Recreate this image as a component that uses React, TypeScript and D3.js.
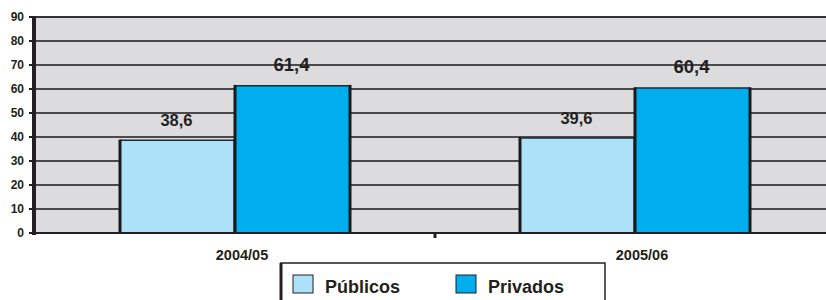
import * as d3 from "d3";

const categories = ["2004/05", "2005/06"];
const seriesNames = ["Públicos", "Privados"];
const publicos = [38.6, 39.6];
const privados = [61.4, 60.4];
const yTicks = [0, 10, 20, 30, 40, 50, 60, 70, 80, 90];

const colors = ["#ade0f9", "#00adef"];
const width = 826;
const height = 300;
const marginLeft = 35;
const plotTop = 17;
const plotBottom = 233;

const fmt = (v: number) => v.toFixed(1).replace(".", ",");

export default function App() {
  const y = d3.scaleLinear().domain([0, 90]).range([plotBottom, plotTop]);
  const x = d3.scaleBand().domain(categories).range([marginLeft, marginLeft + 800]).padding(0);
  const xs = d3
    .scaleBand()
    .domain(seriesNames)
    .range([0, x.bandwidth()])
    .paddingInner(0)
    .paddingOuter(0.739);

  const rows = categories.map((c, i) => ({ cat: c, values: [publicos[i], privados[i]] }));
  const font = "'Liberation Sans', Arial, sans-serif";

  return (
    <div style={{ position: "fixed", left: 0, top: 0 }}>
      <svg width={width} height={height} style={{ display: "block", background: "#fff" }} fontFamily={font}>
        {/* plot background */}
        <rect x={marginLeft} y={plotTop} width={width - marginLeft} height={plotBottom - plotTop} fill="#dcdcde" />
        {/* gridlines */}
        {yTicks.filter((t) => t > 0).map((t) => (
          <line key={t} x1={marginLeft} x2={width} y1={y(t)} y2={y(t)} stroke={t === 90 ? "#333" : "#4a4a4a"} strokeWidth={2} />
        ))}
        {/* bars */}
        {rows.map((r) => (
          <g key={r.cat} transform={`translate(${x(r.cat)},0)`}>
            {r.values.map((v, j) => {
              const bx = xs(seriesNames[j])!;
              const bw = xs.bandwidth();
              const top = y(v);
              return (
                <g key={j}>
                  <rect x={bx} y={top} width={bw} height={plotBottom - top} fill={colors[j]} />
                  <line x1={bx} x2={bx + bw} y1={top} y2={top} stroke="#1c2a33" strokeWidth={1.5} />
                  <line x1={bx} x2={bx} y1={top - 0.75} y2={plotBottom} stroke="#1a1a1a" strokeWidth={3} />
                  <line x1={bx + bw} x2={bx + bw} y1={top - 0.75} y2={plotBottom} stroke="#1a1a1a" strokeWidth={3} />
                  <text
                    x={bx + bw / 2 - 1}
                    y={top - (j === 0 ? 14 : 15)}
                    textAnchor="middle"
                    fontWeight="bold"
                    fontSize={j === 0 ? 16.5 : 18.5}
                    fill="#231f20"
                  >
                    {fmt(v)}
                  </text>
                </g>
              );
            })}
          </g>
        ))}
        {/* x axis */}
        <line x1={marginLeft} x2={width} y1={plotBottom} y2={plotBottom} stroke="#231f20" strokeWidth={2} />
        {x.domain().slice(1).map((c) => (
          <line key={c} x1={x(c)!} x2={x(c)!} y1={plotBottom} y2={plotBottom + 5} stroke="#231f20" strokeWidth={3} />
        ))}
        {categories.map((c) => (
          <text key={c} x={x(c)! + x.bandwidth() / 2 + 7} y={260} textAnchor="middle" fontWeight="bold" fontSize={14.5} fill="#231f20">
            {c}
          </text>
        ))}
        {/* y axis */}
        <line x1={34} x2={34} y1={plotTop - 1} y2={plotBottom + 2} stroke="#231f20" strokeWidth={4} />
        {yTicks.map((t) => (
          <g key={t}>
            <line x1={29} x2={34} y1={y(t)} y2={y(t)} stroke="#231f20" strokeWidth={2} />
            <text x={24} y={y(t) + 4} textAnchor="end" fontWeight="bold" fontSize={12} fill="#231f20">
              {t}
            </text>
          </g>
        ))}
        {/* legend */}
        <g>
          <rect x={281} y={263} width={324} height={50} fill="#fff" stroke="#231f20" strokeWidth={1.5} />
          <line x1={281} x2={281} y1={263} y2={300} stroke="#231f20" strokeWidth={3} />
          {seriesNames.map((s, i) => {
            const lx = i === 0 ? 293 : 456;
            return (
              <g key={s}>
                <rect x={lx} y={275} width={20} height={18} fill={colors[i]} stroke="#231f20" strokeWidth={1} />
                <text x={lx + 32} y={293} fontWeight="bold" fontSize={18} fill="#231f20">
                  {s}
                </text>
              </g>
            );
          })}
        </g>
      </svg>
    </div>
  );
}
